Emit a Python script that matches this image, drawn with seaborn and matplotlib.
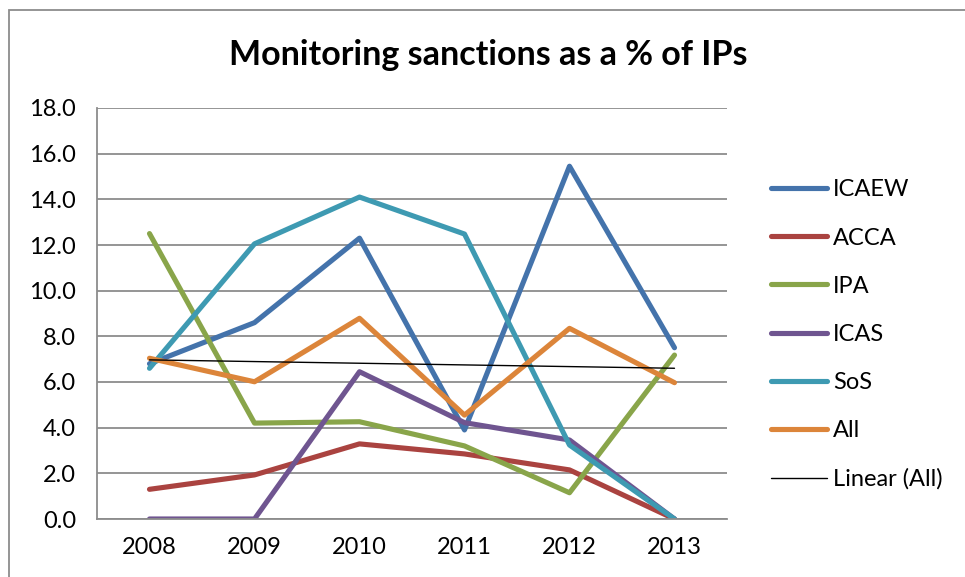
import numpy as np
import pandas as pd
import matplotlib.pyplot as plt
import seaborn as sns
from matplotlib.patches import Rectangle

# values
years = [2008, 2009, 2010, 2011, 2012, 2013]
icaew = [6.8, 8.6, 12.3, 3.9, 15.45, 7.5]
acca = [1.3, 1.93, 3.29, 2.85, 2.15, 0.0]
ipa = [12.5, 4.2, 4.26, 3.2, 1.15, 7.18]
icas = [0.0, 0.0, 6.45, 4.22, 3.46, 0.0]
sos = [6.6, 12.05, 14.1, 12.48, 3.24, 0.0]
all_bodies = [7.04, 6.01, 8.79, 4.55, 8.35, 5.97]

series = {'ICAEW': icaew, 'ACCA': acca, 'IPA': ipa, 'ICAS': icas, 'SoS': sos, 'All': all_bodies}
colors = {'ICAEW': '#4473AB', 'ACCA': '#AA4340', 'IPA': '#89A54A', 'ICAS': '#6F5590',
          'SoS': '#3E9AB2', 'All': '#DC853A'}

df = pd.DataFrame([(y, name, v) for name, vals in series.items() for y, v in zip(years, vals)],
                  columns=['Year', 'Body', 'Value'])

# linear trend of "All" (Excel style trendline)
idx = np.arange(1, len(years) + 1)
slope, intercept = np.polyfit(idx, all_bodies, 1)
trend = pd.DataFrame({'Year': years, 'Value': slope * idx + intercept})

sns.set_style('white')
plt.rcParams['font.family'] = ['Lato', 'DejaVu Sans']
plt.rcParams['text.color'] = 'black'
plt.rcParams['xtick.labelcolor'] = 'black'
plt.rcParams['ytick.labelcolor'] = 'black'

fig = plt.figure(figsize=(9.65, 5.77), dpi=100)
ax = fig.add_axes([97 / 965, 1 - 519 / 577, 630 / 965, 411 / 577])

sns.lineplot(data=df, x='Year', y='Value', hue='Body', hue_order=list(series),
             palette=colors, linewidth=3.7, ax=ax, solid_capstyle='round',
             solid_joinstyle='round')
sns.lineplot(data=trend, x='Year', y='Value', color='black', linewidth=1.0,
             label='Linear (All)', ax=ax)

ax.set_xlim(2007.5, 2013.5)
ax.set_ylim(0, 18)
ax.set_yticks(np.arange(0, 18.1, 2))
ax.set_yticklabels([f'{v:.1f}' for v in np.arange(0, 18.1, 2)])
ax.set_xticks(years)
ax.set_xticklabels([str(y) for y in years])
ax.set_xticks(np.arange(2007.5, 2013.6, 1), minor=True)
ax.tick_params(axis='x', which='major', length=0, pad=13, labelsize=17)
ax.tick_params(axis='x', which='minor', length=6, width=1.3, color='#8c8c8c', direction='out')
ax.tick_params(axis='y', which='major', length=6, width=1.3, color='#8c8c8c', direction='out',
               pad=9, labelsize=17)
ax.set_xlabel('')
ax.set_ylabel('')
ax.grid(axis='y', color='#8c8c8c', linewidth=1.3)
ax.set_axisbelow(True)
for side in ['top', 'right']:
    ax.spines[side].set_visible(False)
for side in ['left', 'bottom']:
    ax.spines[side].set_color('#8c8c8c')
    ax.spines[side].set_linewidth(1.3)

handles, labels = ax.get_legend_handles_labels()
ax.legend(handles, labels, loc='upper left', bbox_to_anchor=(762 / 965, 1 - 170 / 577),
          bbox_transform=fig.transFigure, frameon=False, fontsize=17,
          handlelength=2.35, handletextpad=0.25, labelspacing=1.15, borderaxespad=0)

fig.text(488 / 965, 1 - 55 / 577, 'Monitoring sanctions as a % of IPs', ha='center',
         va='center', fontsize=24.5, fontweight='bold', color='black')

# chart area border
fig.patches.append(Rectangle((9 / 965, -0.1), 1.2, 1.1 - 10 / 577, transform=fig.transFigure,
                             fill=False, edgecolor='#8c8c8c', linewidth=1.3))

fig.savefig('out.png', dpi=100)
